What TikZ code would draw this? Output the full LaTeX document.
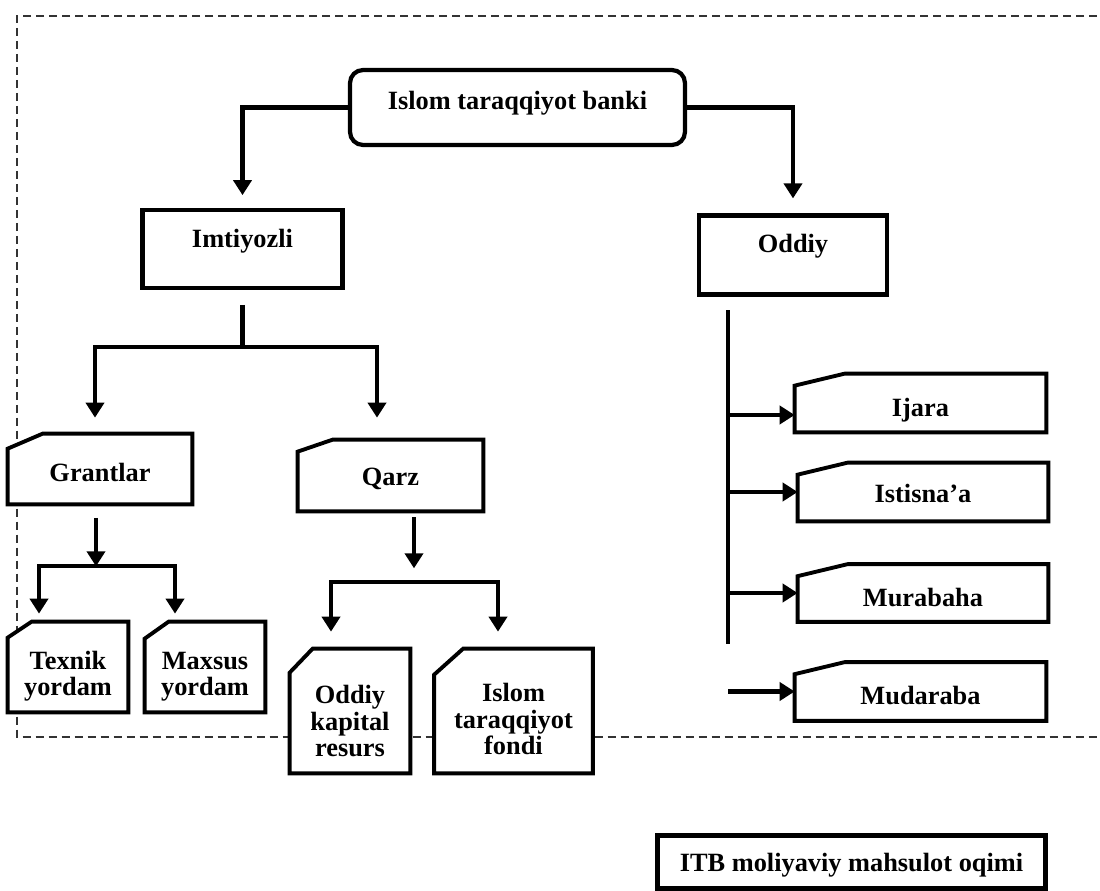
\documentclass[tikz,border=0pt]{standalone}
\usepackage{fontspec}
\setmainfont{Liberation Serif}
\usetikzlibrary{arrows.meta,backgrounds}

\newcommand\cardline[3]{%
	\begin{pgfonlayer}{background}
		\draw[cardedge] ([yshift=-#3]#1.north west) -- ([xshift=#2]#1.north west) -- (#1.north east) -- (#1.south east) -- (#1.south west) -- cycle;
	\end{pgfonlayer}}

\begin{document}
\begin{tikzpicture}[
						x=0.02cm,
						y=-0.02cm,
						font=\fontsize{15}{15.1}\selectfont\bfseries,
						every node/.style={inner sep=0pt},
						frame/.style={draw=black!80, line width=1.1pt, dash pattern=on 0.16cm off 0.1cm},
						link/.style={line width=2.4pt},
						conn/.style={line width=2.4pt, -{Triangle[width=0.36cm,length=0.3cm]}},
						bankbox/.style={draw, line width=2.4pt, rounded corners=0.26cm, minimum width=6.7cm, minimum height=1.5cm, text height=0.4cm, text depth=0.3cm},
						levelbox/.style={draw, line width=2.4pt, text height=0.4cm, text depth=0.44cm},
						card/.style={align=center, text height=0.55cm, text depth=0.05cm},
						cardedge/.style={draw, fill=white, line width=2.2pt, line join=miter},
						legendbox/.style={draw, line width=2.8pt, minimum width=7.76cm, minimum height=1.06cm, text height=0.45cm, text depth=0.05cm}
					]
					\useasboundingbox (0,0) rectangle (1100,891);
					\begin{pgfonlayer}{background}
						\begin{scope}
							\clip (0,0) rectangle (1100,891);
							\draw[frame] (1110,16) -- (17,16) -- (17,737) -- (1110,737);
						\end{scope}
					\end{pgfonlayer}

					\node[bankbox] (bank) at (517.5,107.5) {Islom taraqqiyot banki};
					\node[levelbox, minimum width=4cm, minimum height=1.55cm] (imt) at (242.5,249) {Imtiyozli};
					\node[levelbox, minimum width=3.77cm, minimum height=1.58cm, text depth=0.48cm] (oddiy) at (793,255) {Oddiy};

					\node[card, minimum width=3.68cm, minimum height=1.4cm] (grant) at (100,469) {Grantlar};
					\node[card, minimum width=3.7cm, minimum height=1.42cm, text depth=0.13cm] (qarz) at (390.5,475.5) {Qarz};
					\node[card, minimum width=2.4cm, minimum height=1.8cm, text height=1.2cm, text depth=0.04cm] (texnik) at (68,667) {Texnik\\yordam};
					\node[card, minimum width=2.4cm, minimum height=1.8cm, text height=1.2cm, text depth=0.04cm] (maxsus) at (205,667) {Maxsus\\yordam};
					\node[card, minimum width=2.4cm, minimum height=2.48cm, text height=1.88cm, text depth=0.04cm] (kapital) at (350,711) {Oddiy\\kapital\\resurs};
					\node[card, minimum width=3.16cm, minimum height=2.48cm, text height=1.8cm, text depth=0.04cm] (fondi) at (513.5,711) {Islom\\taraqqiyot\\fondi};

					\node[card, minimum width=5.02cm, minimum height=1.16cm, text height=0.6cm, text depth=0.04cm] (ijara) at (920.5,403) {Ijara};
					\node[card, minimum width=5cm, minimum height=1.16cm, text height=0.55cm, text depth=0.11cm] (istisna) at (923,492) {Istisna’a};
					\node[card, minimum width=5cm, minimum height=1.14cm, text height=0.6cm, text depth=0.04cm] (murabaha) at (923,593) {Murabaha};
					\node[card, minimum width=5.02cm, minimum height=1.16cm, text height=0.6cm, text depth=0.06cm] (mudaraba) at (920.5,691.5) {Mudaraba};

					\cardline{grant}{0.7cm}{0.3cm}
					\cardline{qarz}{0.7cm}{0.24cm}
					\cardline{texnik}{0.48cm}{0.32cm}
					\cardline{maxsus}{0.48cm}{0.34cm}
					\cardline{kapital}{0.46cm}{0.48cm}
					\cardline{fondi}{0.58cm}{0.52cm}
					\cardline{ijara}{1cm}{0.24cm}
					\cardline{istisna}{1cm}{0.24cm}
					\cardline{murabaha}{1cm}{0.24cm}
					\cardline{mudaraba}{1cm}{0.24cm}

					\node[legendbox] (legend) at (851.5,862) {ITB moliyaviy mahsulot oqimi};

					\draw[conn, shorten >=0.26cm] (bank.west) -| (imt.north);
					\draw[conn, shorten >=0.3cm] (bank.east) -| (oddiy.north);

					\coordinate (imtfork) at ([yshift=-1.15cm]imt.south);
					\draw[link, shorten <=0.3cm] (imt.south) -- (imtfork);
					\draw[conn, shorten >=0.32cm] (imtfork) -| ([xshift=-0.1cm]grant.north);
					\draw[conn, shorten >=0.44cm] (imtfork) -| ([xshift=-0.27cm]qarz.north);

					\coordinate (grantfork) at ([xshift=-0.08cm,yshift=-1.24cm]grant.south);
					\draw[conn, shorten <=0.27cm] ([xshift=-0.08cm]grant.south) -- (grantfork);
					\draw[conn, shorten >=0.16cm] (grantfork) -| ([xshift=-0.58cm]texnik.north);
					\draw[conn, shorten >=0.16cm] (grantfork) -| ([xshift=-0.6cm]maxsus.north);

					\coordinate (qarzfork) at ([xshift=0.47cm,yshift=-1.42cm]qarz.south);
					\draw[conn, shorten <=0.12cm, shorten >=0.28cm] ([xshift=0.47cm]qarz.south) -- (qarzfork);
					\draw[conn, shorten >=0.34cm] (qarzfork) -| ([xshift=-0.38cm]kapital.north);
					\draw[conn, shorten >=0.34cm] (qarzfork) -| ([xshift=-0.31cm]fondi.north);

					\coordinate (oddtop) at ([xshift=-1.3cm,yshift=-0.27cm]oddiy.south);
					\coordinate (oddbot) at ([xshift=-1.3cm,yshift=-6.95cm]oddiy.south);
					\coordinate (ijarain) at ([yshift=-0.24cm]ijara.west);
					\draw[link] (oddtop) -- (oddbot);
					\draw[conn] (oddtop |- ijarain) -- (ijarain);
					\draw[conn] (oddtop |- istisna.west) -- (istisna.west);
					\draw[conn] (oddtop |- murabaha.west) -- (murabaha.west);
					\draw[conn] (oddtop |- mudaraba.west) -- (mudaraba.west);
				\end{tikzpicture}
\end{document}
